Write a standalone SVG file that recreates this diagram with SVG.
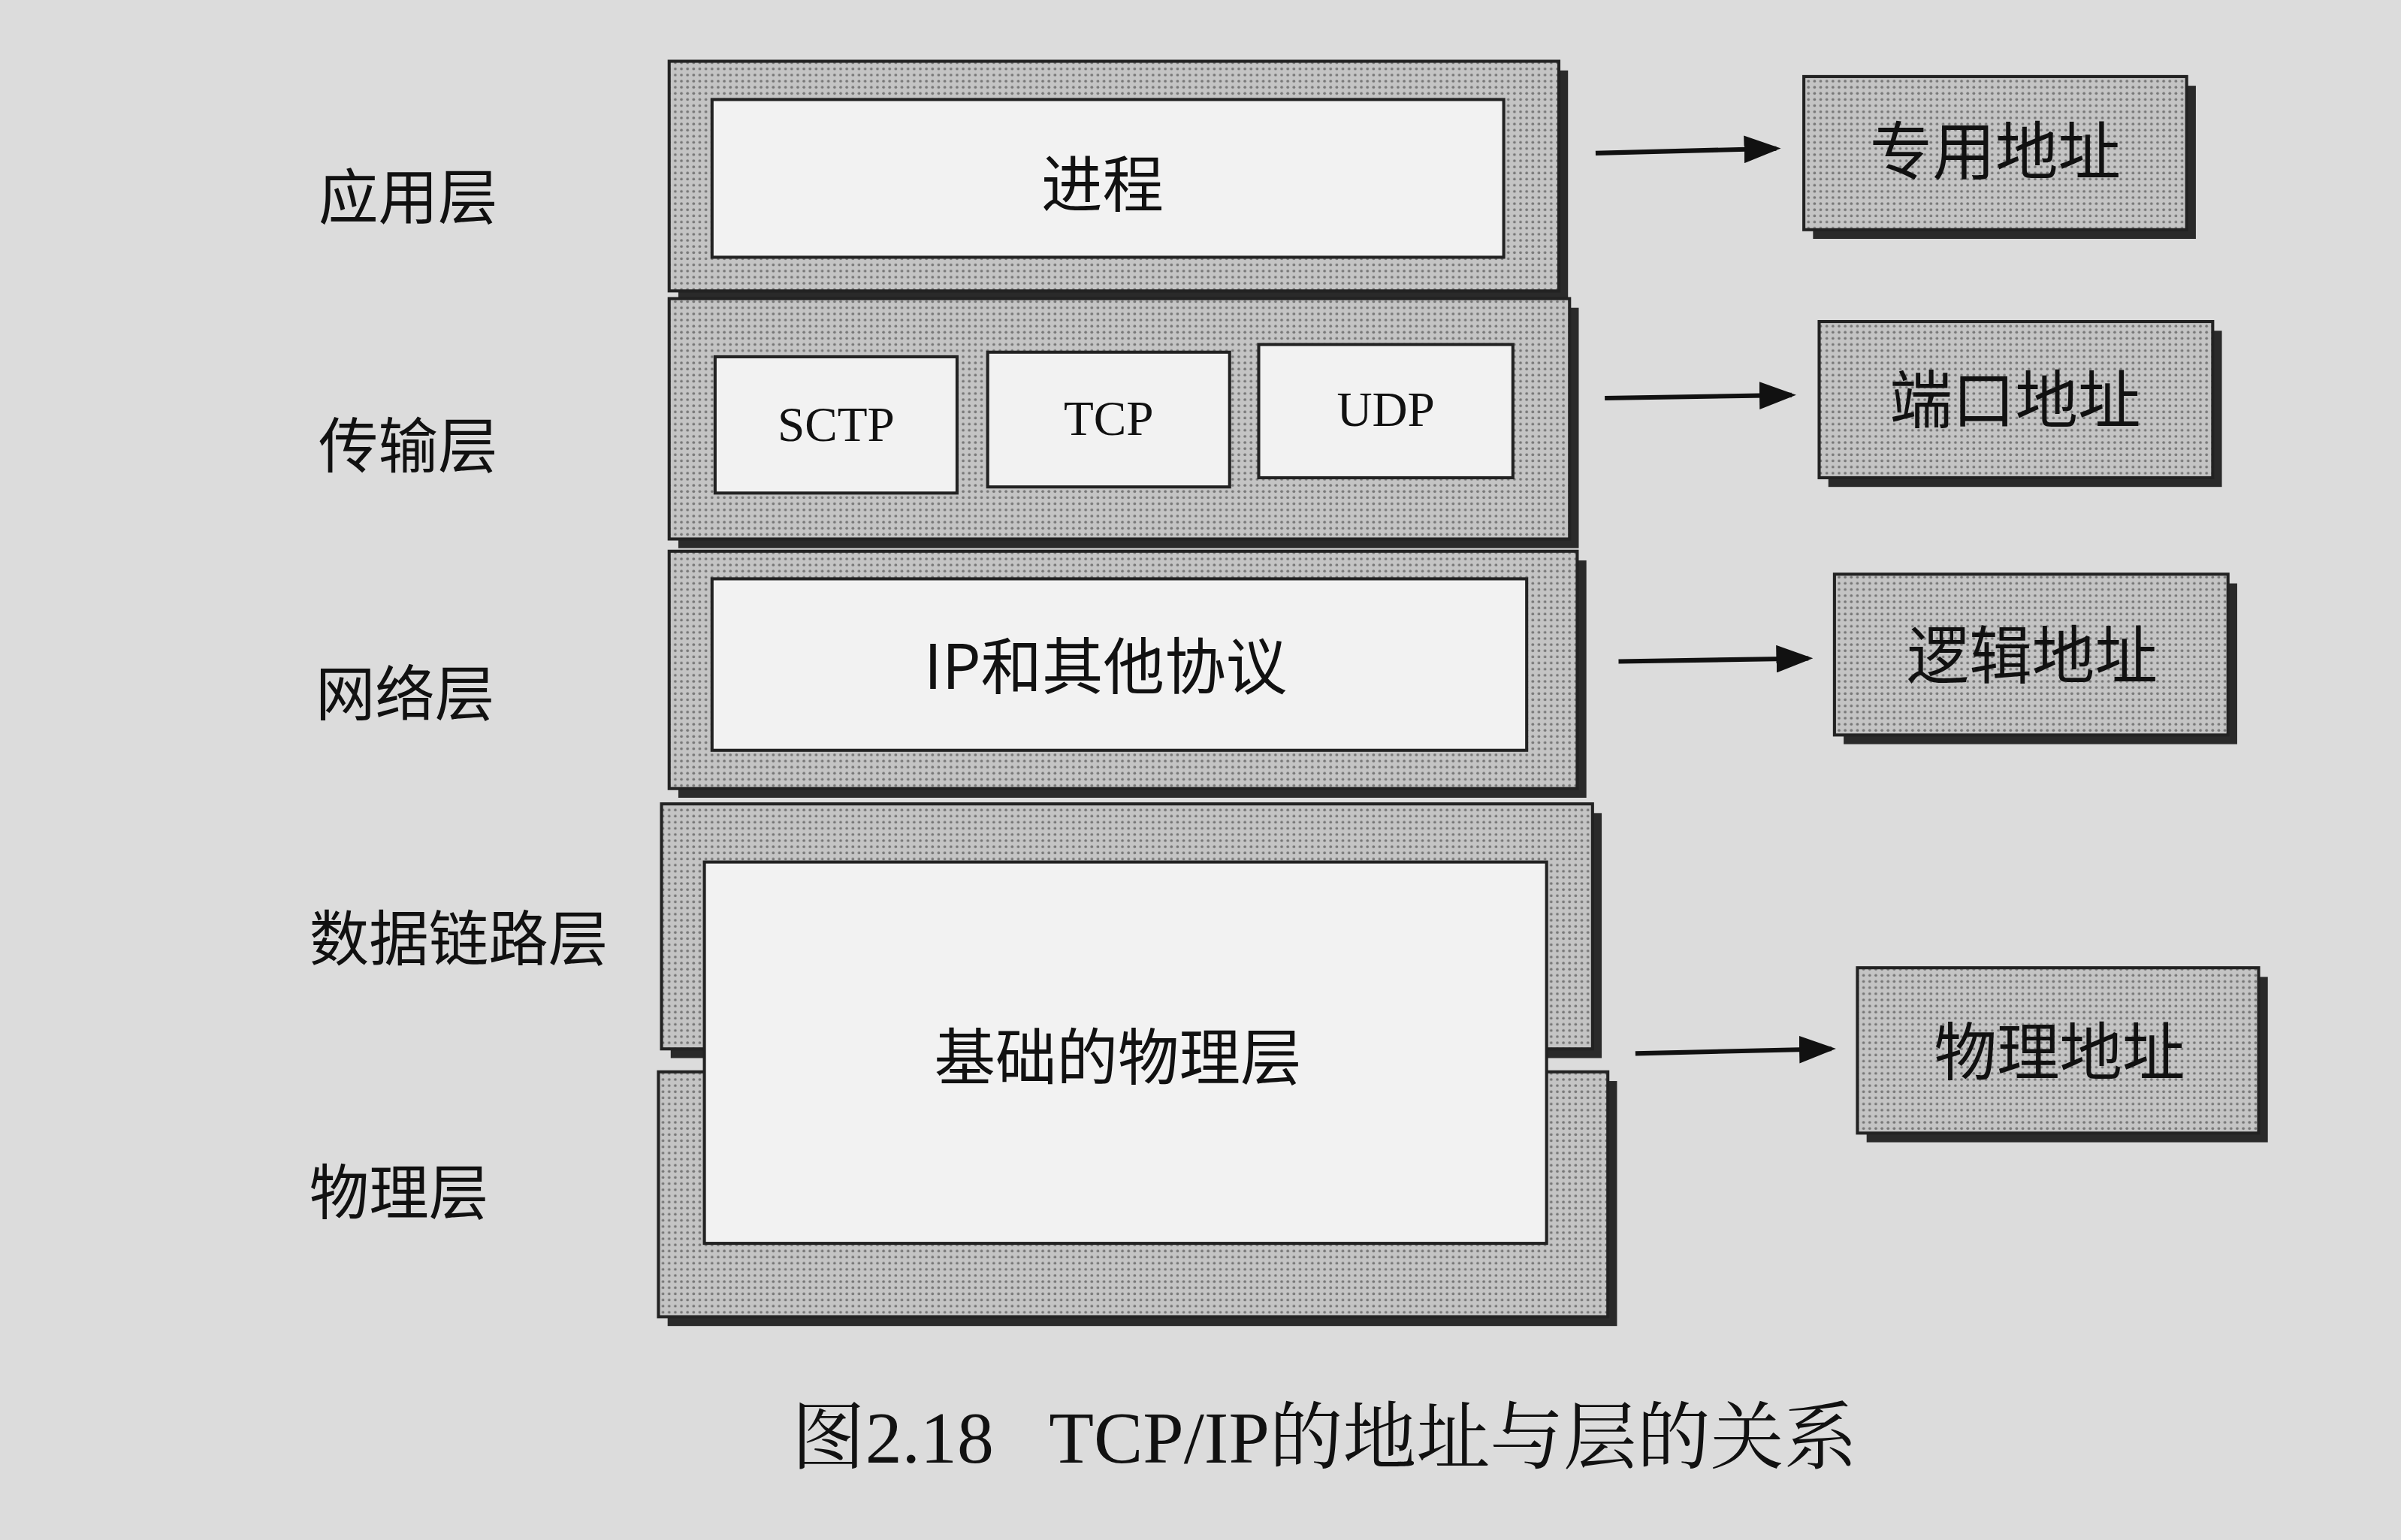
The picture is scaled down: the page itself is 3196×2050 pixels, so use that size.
<svg xmlns="http://www.w3.org/2000/svg" width="3196" height="2050" viewBox="0 0 3196 2050">
<style>
.lay{fill:#b4b4b4;stroke:#222;stroke-width:2}
.sh{fill:#2a2a2a}
.in{fill:#f2f2f2;stroke:#222;stroke-width:2}
.rb{fill:#b8b8b8;stroke:#222;stroke-width:2}
.t{font-family:"Noto Sans CJK SC",sans-serif;fill:#111}
.s{font-family:"Liberation Serif",serif;fill:#111}
.c{font-family:"Liberation Serif","Noto Serif CJK SC","Noto Sans CJK SC",serif;fill:#111}
.ar{stroke:#111;stroke-width:3;fill:none}
</style>
<defs>
<marker id="ah" markerWidth="8" markerHeight="6" refX="7" refY="3" orient="auto" markerUnits="strokeWidth"><path d="M0,0 L8,3 L0,6 Z" fill="#111"/></marker>
<pattern id="dots" width="4" height="4" patternUnits="userSpaceOnUse"><rect width="4" height="4" fill="#c4c4c4"/><circle cx="1" cy="1" r="0.9" fill="#777"/></pattern>
</defs>
<rect width="3196" height="2050" fill="#dcdcdc"/>
<g transform="scale(2.0383)">
<g id="app">
<rect class="sh" x="443" y="46" width="581" height="150"/>
<rect class="lay" x="437" y="40" width="581" height="150" style="fill:url(#dots)"/>
<rect class="in" x="465" y="65" width="517" height="103"/>
<text class="t" x="720" y="135" font-size="40" text-anchor="middle">进程</text>
</g>
<g id="transport">
<rect class="sh" x="443" y="201" width="588" height="157"/>
<rect class="lay" x="437" y="195" width="588" height="157" style="fill:url(#dots)"/>
<rect class="in" x="467" y="233" width="158" height="89"/>
<rect class="in" x="645" y="230" width="158" height="88"/>
<rect class="in" x="822" y="225" width="166" height="87"/>
<text class="s" x="546" y="288" font-size="32" text-anchor="middle">SCTP</text>
<text class="s" x="724" y="284" font-size="32" text-anchor="middle">TCP</text>
<text class="s" x="905" y="278" font-size="32" text-anchor="middle">UDP</text>
</g>
<g id="network">
<rect class="sh" x="443" y="366" width="593" height="155"/>
<rect class="lay" x="437" y="360" width="593" height="155" style="fill:url(#dots)"/>
<rect class="in" x="465" y="378" width="532" height="112"/>
<text class="t" x="722" y="450" font-size="40" text-anchor="middle">IP和其他协议</text>
</g>
<g id="physical">
<rect class="sh" x="438" y="531" width="608" height="160"/>
<rect class="lay" x="432" y="525" width="608" height="160" style="fill:url(#dots)"/>
<rect class="sh" x="436" y="706" width="620" height="160"/>
<rect class="lay" x="430" y="700" width="620" height="160" style="fill:url(#dots)"/>
<rect class="in" x="460" y="563" width="550" height="249"/>
<text class="t" x="730" y="705" font-size="40" text-anchor="middle">基础的物理层</text>
</g>
<g id="labels" class="t" font-size="39">
<text x="208" y="143">应用层</text>
<text x="208" y="305">传输层</text>
<text x="206" y="467">网络层</text>
<text x="202" y="627">数据链路层</text>
<text x="202" y="793">物理层</text>
</g>
<g id="r1"><rect class="sh" x="1184" y="56" width="250" height="100"/><rect class="rb" x="1178" y="50" width="250" height="100" style="fill:url(#dots)"/><text class="t" x="1303" y="114" font-size="41" text-anchor="middle">专用地址</text></g>
<g id="r2"><rect class="sh" x="1194" y="216" width="257" height="102"/><rect class="rb" x="1188" y="210" width="257" height="102" style="fill:url(#dots)"/><text class="t" x="1316" y="276" font-size="41" text-anchor="middle">端口地址</text></g>
<g id="r3"><rect class="sh" x="1204" y="381" width="257" height="105"/><rect class="rb" x="1198" y="375" width="257" height="105" style="fill:url(#dots)"/><text class="t" x="1327" y="443" font-size="41" text-anchor="middle">逻辑地址</text></g>
<g id="r4"><rect class="sh" x="1219" y="638" width="262" height="108"/><rect class="rb" x="1213" y="632" width="262" height="108" style="fill:url(#dots)"/><text class="t" x="1345" y="702" font-size="41" text-anchor="middle">物理地址</text></g>
<g id="connectors">
<line class="ar" x1="1042" y1="100" x2="1160" y2="97" marker-end="url(#ah)"/>
<line class="ar" x1="1048" y1="260" x2="1170" y2="258" marker-end="url(#ah)"/>
<line class="ar" x1="1057" y1="432" x2="1181" y2="430" marker-end="url(#ah)"/>
<line class="ar" x1="1068" y1="688" x2="1196" y2="685" marker-end="url(#ah)"/>
</g>
<text class="c" x="865" y="955" font-size="48" text-anchor="middle" xml:space="preserve">图2.18   TCP/IP的地址与层的关系</text>
</g>
</svg>
